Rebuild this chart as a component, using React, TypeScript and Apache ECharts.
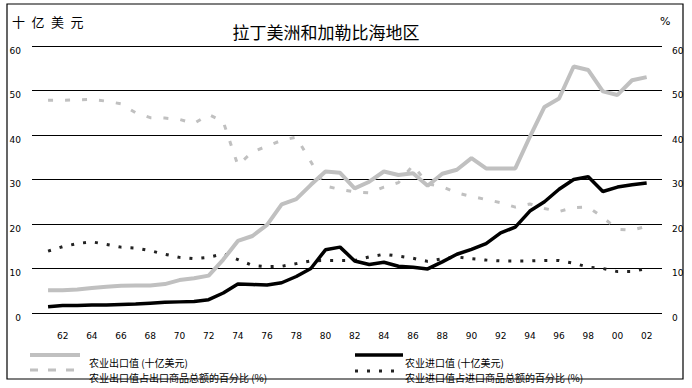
import React, { useEffect, useRef } from "react";
import * as echarts from "echarts";

const years: number[] = [];
for (let y = 1961; y <= 2002; y++) years.push(y);

const xTickYears = [1962, 1964, 1966, 1968, 1970, 1972, 1974, 1976, 1978, 1980, 1982, 1984, 1986, 1988, 1990, 1992, 1994, 1996, 1998, 2000, 2002];

// 农业出口值（十亿美元）
const agExportValue = [
  5.1, 5.1, 5.3, 5.6, 5.9, 6.1, 6.2, 6.2, 6.5, 7.4,
  7.8, 8.4, 12.0, 16.2, 17.3, 19.8, 24.4, 25.6, 28.8, 31.8,
  31.5, 28.0, 29.5, 31.8, 31.0, 31.4, 28.6, 31.3, 32.2, 34.8,
  32.5, 32.5, 32.5, 39.6, 46.3, 48.2, 55.4, 54.6, 49.8, 49.0,
  52.3, 53.0,
];

// 农业进口值（十亿美元）
const agImportValue = [
  1.4, 1.7, 1.7, 1.8, 1.8, 1.9, 2.0, 2.2, 2.4, 2.5,
  2.6, 3.0, 4.5, 6.5, 6.4, 6.3, 6.8, 8.2, 10.0, 14.2,
  14.8, 11.7, 10.9, 11.4, 10.5, 10.3, 9.9, 11.5, 13.2, 14.3,
  15.6, 18.0, 19.3, 22.9, 25.0, 27.8, 30.0, 30.6, 27.3, 28.3,
  28.8, 29.2,
];

// 农业出口值占出口商品总额的百分比（%）
const agExportShare = [
  47.8, 47.8, 47.9, 48.0, 47.6, 47.0, 45.0, 43.9, 43.8, 43.5,
  42.6, 44.6, 43.0, 33.2, 36.2, 37.5, 38.8, 39.5, 34.0, 28.5,
  27.8, 27.2, 27.0, 28.3, 29.3, 33.2, 29.0, 28.4, 27.0, 26.2,
  25.5, 24.8, 23.8, 24.5, 23.5, 22.8, 23.7, 23.8, 21.5, 18.8,
  18.6, 19.5,
];

// 农业进口值占进口商品总额的百分比（%）
const agImportShare = [
  13.9, 14.9, 15.6, 16.0, 15.4, 14.8, 14.6, 14.0, 13.2, 12.5,
  12.2, 12.5, 13.3, 12.0, 10.7, 10.4, 10.5, 11.1, 11.7, 11.8,
  11.8, 11.8, 12.6, 13.2, 12.8, 12.3, 11.6, 12.2, 12.6, 12.2,
  11.9, 11.7, 11.7, 11.7, 11.8, 11.8, 11.2, 10.3, 10.0, 9.3,
  9.3, 10.0,
];

const titleText = "拉丁美洲和加勒比海地区";
const leftUnit = "十\u2002亿\u2002美\u2002元";
const rightUnit = "%";
const legendNames = [
  "农业出口值 (十亿美元)",
  "农业出口值占出口商品总额的百分比 (%)",
  "农业进口值 (十亿美元)",
  "农业进口值占进口商品总额的百分比 (%)",
];

const GRAY = "#c0c0c0";
const BLACK = "#000000";
const CJK = "'Noto Sans CJK SC', sans-serif";
const NUM = "'DejaVu Sans', sans-serif";

const pair = (vals: number[]) => years.map((y, i) => [y, vals[i]]);

export default function App() {
  const ref = useRef<HTMLDivElement>(null);
  useEffect(() => {
    if (!ref.current) return;
    const chart = echarts.init(ref.current, undefined, { renderer: "svg" });
    const axisLabelY = {
      fontSize: 9,
      color: "#000",
      fontFamily: NUM,
      verticalAlign: "top" as const,
    };
    chart.setOption({
      animation: false,
      backgroundColor: "#fff",
      grid: { left: 32, right: 30, top: 46, bottom: 75, containLabel: false },
      xAxis: {
        type: "value",
        min: 1959.9,
        max: 2003.05,
        axisLine: { show: false },
        axisTick: { show: false },
        splitLine: { show: false },
        axisLabel: {
          customValues: xTickYears,
          formatter: (v: number) => String(Math.round(v) % 100).padStart(2, "0"),
          fontSize: 9,
          color: "#000",
          fontFamily: NUM,
          margin: 18,
        },
      },
      yAxis: [
        {
          type: "value",
          position: "left",
          min: 0,
          max: 60,
          interval: 10,
          axisLine: { show: false },
          axisTick: { show: false },
          splitLine: { show: true, lineStyle: { color: "#000", width: 1 } },
          axisLabel: { ...axisLabelY, margin: 11 },
        },
        {
          type: "value",
          position: "right",
          min: 0,
          max: 60,
          interval: 10,
          axisLine: { show: false },
          axisTick: { show: false },
          splitLine: { show: false },
          axisLabel: { ...axisLabelY, margin: 10 },
        },
      ],
      series: [
        {
          name: legendNames[1],
          type: "line",
          yAxisIndex: 1,
          data: pair(agExportShare),
          symbol: "none",
          lineStyle: { color: GRAY, width: 3, type: [5, 12] },
          z: 2,
        },
        {
          name: legendNames[3],
          type: "line",
          yAxisIndex: 1,
          data: pair(agImportShare),
          symbol: "none",
          lineStyle: { color: "#222", width: 3, type: [3, 9] },
          z: 2,
        },
        {
          name: legendNames[0],
          type: "line",
          yAxisIndex: 0,
          data: pair(agExportValue),
          symbol: "none",
          lineStyle: { color: GRAY, width: 4 },
          z: 3,
        },
        {
          name: legendNames[2],
          type: "line",
          yAxisIndex: 0,
          data: pair(agImportValue),
          symbol: "none",
          lineStyle: { color: BLACK, width: 3.5 },
          z: 4,
        },
      ],
      graphic: [
        {
          type: "rect",
          shape: { x: 7, y: 4, width: 676, height: 375 },
          style: { fill: "none", stroke: "#000", lineWidth: 1.2 },
          silent: true,
        },
        {
          type: "text",
          x: 326,
          y: 31,
          style: {
            text: titleText,
            fontSize: 17,
            fontFamily: CJK,
            fill: "#000",
            align: "center",
            verticalAlign: "middle",
          },
        },
        {
          type: "text",
          x: 12,
          y: 21,
          style: {
            text: leftUnit,
            fontSize: 13,
            fontFamily: CJK,
            fill: "#000",
            align: "left",
            verticalAlign: "middle",
          },
        },
        {
          type: "text",
          x: 660,
          y: 21,
          style: {
            text: rightUnit,
            fontSize: 11,
            fontFamily: NUM,
            fill: "#000",
            align: "left",
            verticalAlign: "middle",
          },
        },
        // legend row 1 left
        {
          type: "line",
          shape: { x1: 30, y1: 355, x2: 80, y2: 355 },
          style: { stroke: GRAY, lineWidth: 4 },
        },
        {
          type: "text",
          x: 89,
          y: 362,
          style: { text: legendNames[0], fontSize: 10, fontFamily: CJK, fill: "#000", verticalAlign: "middle" },
        },
        // legend row 2 left
        {
          type: "line",
          shape: { x1: 30, y1: 370, x2: 74, y2: 370 },
          style: { stroke: GRAY, lineWidth: 3, lineDash: [8, 10] },
        },
        {
          type: "text",
          x: 89,
          y: 377,
          style: { text: legendNames[1], fontSize: 10, fontFamily: CJK, fill: "#000", verticalAlign: "middle" },
        },
        // legend row 1 right
        {
          type: "line",
          shape: { x1: 355, y1: 355, x2: 403, y2: 355 },
          style: { stroke: BLACK, lineWidth: 3.5 },
        },
        {
          type: "text",
          x: 405,
          y: 362,
          style: { text: legendNames[2], fontSize: 10, fontFamily: CJK, fill: "#000", verticalAlign: "middle" },
        },
        // legend row 2 right
        {
          type: "line",
          shape: { x1: 355, y1: 371, x2: 394, y2: 371 },
          style: { stroke: "#222", lineWidth: 3, lineDash: [3, 9] },
        },
        {
          type: "text",
          x: 405,
          y: 377,
          style: { text: legendNames[3], fontSize: 10, fontFamily: CJK, fill: "#000", verticalAlign: "middle" },
        },
      ],
    });
    return () => chart.dispose();
  }, []);
  return (
    <div
      ref={ref}
      style={{ position: "fixed", left: 0, top: 0, width: 692, height: 388, background: "#fff" }}
    />
  );
}
